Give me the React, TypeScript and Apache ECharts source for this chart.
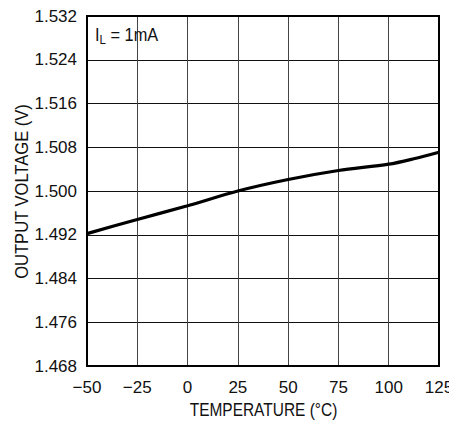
import React, { useEffect, useRef } from "react";
import * as echarts from "echarts";

const temperatures = [-50, -25, 0, 25, 50, 75, 100, 112.5, 125];
const outputVoltage = [1.4922, 1.4948, 1.4973, 1.5, 1.5021, 1.50375, 1.5049, 1.5059, 1.5071];
const yMin = 1.468;
const yMax = 1.532;
const yStep = 0.008;
const xMin = -50;
const xMax = 125;
const xStep = 25;
const xTitle = "TEMPERATURE (°C)";
const yTitle = "OUTPUT VOLTAGE (V)";

const FONT = "'Liberation Sans', Arial, sans-serif";

export default function App() {
  const ref = useRef<HTMLDivElement>(null);
  useEffect(() => {
    if (!ref.current) return;
    const chart = echarts.init(ref.current, undefined, { renderer: "svg" });
    chart.setOption({
      animation: false,
      backgroundColor: "#fff",
      grid: {
        left: 87,
        right: 10,
        top: 16,
        bottom: 55,
        containLabel: false,
        outerBoundsMode: "none",
        show: true,
        borderColor: "#000",
        borderWidth: 2,
        backgroundColor: "transparent",
        z: 3,
      },
      xAxis: {
        type: "value",
        min: xMin,
        max: xMax,
        interval: xStep,
        axisLine: { show: false },
        axisTick: { show: false },
        axisLabel: {
          margin: 13,
          fontFamily: FONT,
          fontSize: 17,
          color: "#111",
          formatter: (v: number) => (v < 0 ? "\u2212" + Math.abs(v) : String(v)),
        },
        splitLine: { show: true, lineStyle: { color: "#444", width: 1 } },
      },
      yAxis: {
        type: "value",
        min: yMin,
        max: yMax,
        interval: yStep,
        axisLine: { show: false },
        axisTick: { show: false },
        axisLabel: {
          margin: 10,
          fontFamily: FONT,
          fontSize: 17,
          color: "#111",
          formatter: (v: number) => v.toFixed(3),
        },
        splitLine: { show: true, lineStyle: { color: "#111", width: 1 } },
      },
      graphic: [
        {
          type: "text",
          x: 95,
          y: 35,
          scaleX: 0.88,
          z: 10,
          style: {
            text: "I{sub|L} = 1mA",
            fontFamily: FONT,
            fontSize: 18.6,
            fill: "#111",
            textAlign: "left",
            textVerticalAlign: "middle",
            rich: {
              sub: { fontFamily: FONT, fontSize: 13, padding: [10, 0, 0, 0] },
            },
          },
        },
        {
          type: "text",
          x: 263.5,
          y: 410.5,
          scaleX: 0.86,
          style: {
            text: xTitle,
            fontFamily: FONT,
            fontSize: 18,
            lineHeight: 18,
            fill: "#111",
            textAlign: "center",
            textVerticalAlign: "middle",
          },
        },
        {
          type: "text",
          x: 22,
          y: 191.5,
          rotation: Math.PI / 2,
          scaleX: 0.89,
          style: {
            text: yTitle,
            fontFamily: FONT,
            fontSize: 18.6,
            fill: "#111",
            textAlign: "center",
            textVerticalAlign: "middle",
          },
        },
      ],
      series: [
        {
          type: "line",
          data: temperatures.map((t, i) => [t, outputVoltage[i]]),
          smooth: 0.3,
          showSymbol: false,
          lineStyle: { color: "#000", width: 3.2 },
          z: 5,
        },
      ],
    });
    return () => chart.dispose();
  }, []);
  return <div ref={ref} style={{ position: "fixed", left: 0, top: 0, width: 449, height: 421 }} />;
}
